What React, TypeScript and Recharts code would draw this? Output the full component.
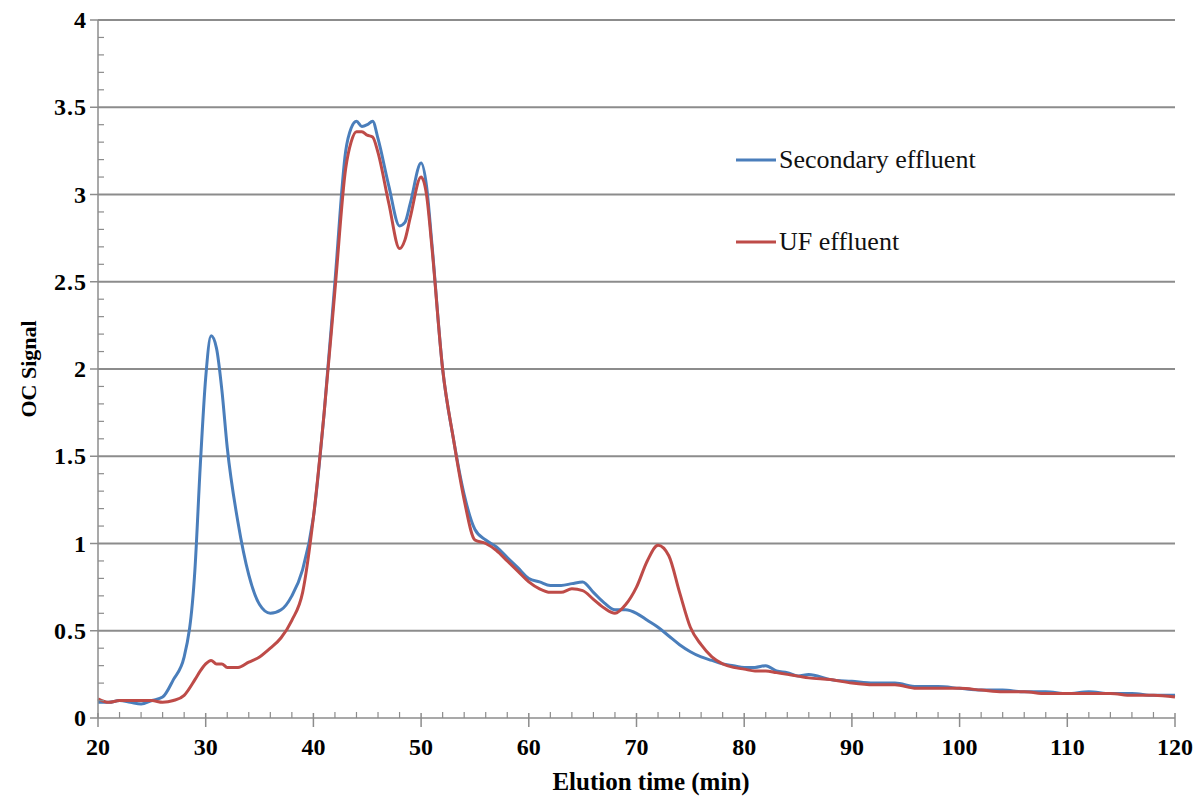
import { LineChart, Line, XAxis, YAxis, ReferenceLine } from "recharts";

// Elution time (min)
const timeMin = [
  20, 21, 22, 23, 24, 25, 26, 27, 28, 29, 29.5, 30, 30.5, 31, 31.5, 32, 33, 34, 35, 36, 37, 38, 39, 40, 41, 42,
  43, 43.5, 44, 44.5, 45, 45.5, 46, 47, 48, 48.5, 49, 50, 50.5, 51, 52, 53, 54, 55, 56, 57, 58, 59, 60, 61, 62,
  63, 64, 65, 66, 67, 68, 69, 70, 71, 72, 73, 74, 75, 76, 77, 78, 79, 80, 81, 82, 83, 84, 85, 86, 88, 90, 92,
  94, 96, 98, 100, 102, 104, 106, 108, 110, 112, 114, 116, 118, 120,
];

const secondaryEffluent = [
  0.09, 0.09, 0.1, 0.09, 0.08, 0.1, 0.12, 0.22, 0.35, 0.85, 1.45, 1.95, 2.19, 2.12, 1.88, 1.55, 1.12, 0.82, 0.65,
  0.6, 0.62, 0.7, 0.85, 1.15, 1.75, 2.5, 3.25, 3.38, 3.42, 3.39, 3.4, 3.42, 3.32, 3.05, 2.82, 2.84, 2.95, 3.18,
  3.05, 2.72, 2.0, 1.6, 1.28, 1.08, 1.02, 0.98, 0.92, 0.86, 0.8, 0.78, 0.76, 0.76, 0.77, 0.78, 0.72, 0.66, 0.62,
  0.62, 0.6, 0.56, 0.52, 0.47, 0.42, 0.38, 0.35, 0.33, 0.31, 0.3, 0.29, 0.29, 0.3, 0.27, 0.26, 0.24, 0.25, 0.22,
  0.21, 0.2, 0.2, 0.18, 0.18, 0.17, 0.16, 0.16, 0.15, 0.15, 0.14, 0.15, 0.14, 0.14, 0.13, 0.13,
];

const ufEffluent = [
  0.11, 0.09, 0.1, 0.1, 0.1, 0.1, 0.09, 0.1, 0.13, 0.22, 0.27, 0.31, 0.33, 0.31, 0.31, 0.29, 0.29, 0.32, 0.35,
  0.4, 0.46, 0.56, 0.72, 1.15, 1.75, 2.45, 3.15, 3.3, 3.36, 3.36, 3.34, 3.33, 3.24, 2.95, 2.69, 2.74, 2.87, 3.1,
  3.0, 2.7, 2.0, 1.6, 1.25, 1.02, 1.0, 0.96, 0.9, 0.84, 0.78, 0.74, 0.72, 0.72, 0.74, 0.73, 0.68, 0.63, 0.6,
  0.65, 0.75, 0.9, 0.99, 0.93, 0.72, 0.52, 0.42, 0.35, 0.31, 0.29, 0.28, 0.27, 0.27, 0.26, 0.25, 0.24, 0.23, 0.22,
  0.2, 0.19, 0.19, 0.17, 0.17, 0.17, 0.16, 0.15, 0.15, 0.14, 0.14, 0.14, 0.14, 0.13, 0.13, 0.12,
];

const xTicks = [20, 22, 24, 26, 28, 30, 32, 34, 36, 38, 40, 42, 44, 46, 48, 50, 52, 54, 56, 58, 60, 62, 64, 66, 68, 70, 72, 74, 76, 78, 80, 82, 84, 86, 88, 90, 92, 94, 96, 98, 100, 102, 104, 106, 108, 110, 112, 114, 116, 118, 120];
const yMajor = [0.5, 1, 1.5, 2, 2.5, 3, 3.5, 4];
const yTicks = Array.from({ length: 41 }, (_, i) => i / 10);

const BLUE = "#4a7ebb";
const RED = "#be4b48";
const AXIS = "#8c8c8c";
const FONT = "Liberation Serif, Times New Roman, serif";

const data = timeMin.map((t, i) => ({
  t,
  secondary: secondaryEffluent[i],
  uf: ufEffluent[i],
}));

function XTick({ x, y, payload }: any) {
  const major = payload.value % 10 === 0;
  return (
    <g>
      {major ? (
        <line x1={x} x2={x} y1={y - 5} y2={y + 9} stroke={AXIS} strokeWidth={1.5} />
      ) : (
        <line x1={x} x2={x} y1={y - 6} y2={y} stroke={AXIS} strokeWidth={1.2} />
      )}
      {major && (
        <text x={x} y={y + 37} textAnchor="middle" fontFamily={FONT} fontWeight="bold" fontSize={24} fill="#000">
          {payload.value}
        </text>
      )}
    </g>
  );
}

function YTick({ x, y, payload }: any) {
  const major = Math.round(payload.value * 10) % 5 === 0;
  return (
    <g>
      {major ? (
        <line x1={x - 8} x2={x} y1={y} y2={y} stroke={AXIS} strokeWidth={1.5} />
      ) : (
        <line x1={x} x2={x + 6} y1={y} y2={y} stroke={AXIS} strokeWidth={1.2} />
      )}
      {major && (
        <text
          x={x - 11}
          y={y + 8}
          textAnchor="end"
          fontFamily={FONT}
          fontWeight="bold"
          fontSize={24}
          letterSpacing={1}
          fill="#000"
        >
          {payload.value}
        </text>
      )}
    </g>
  );
}

// legend and x title drawn as an svg overlay so they take no room from the plot
function Overlay() {
  const items = [
    { label: "Secondary effluent", color: BLUE, y: 160 },
    { label: "UF effluent", color: RED, y: 242 },
  ];
  return (
    <svg width={1204} height={804} style={{ position: "absolute", left: 0, top: 0, pointerEvents: "none" }}>
      {items.map((it) => (
        <g key={it.label}>
          <line x1={736} x2={776} y1={it.y} y2={it.y} stroke={it.color} strokeWidth={3} />
          <text x={779} y={it.y + 8} fontFamily={FONT} fontSize={26} fill="#111">
            {it.label}
          </text>
        </g>
      ))}
      <text x={651} y={790} textAnchor="middle" fontFamily={FONT} fontWeight="bold" fontSize={25} fill="#000">
        Elution time (min)
      </text>
    </svg>
  );
}

export default function App() {
  return (
    <div style={{ margin: -8, width: 1204, height: 804, background: "#fff", position: "relative" }}>
      <LineChart width={1204} height={804} data={data} margin={{ top: 20, right: 29, bottom: 26, left: 38 }}>
        <XAxis
          dataKey="t"
          type="number"
          domain={[20, 120]}
          ticks={xTicks}
          interval={0}
          tickSize={0}
          tickMargin={0}
          tickLine={false}
          tick={<XTick />}
          axisLine={{ stroke: AXIS, strokeWidth: 1.5 }}
          height={60}
        />
        <YAxis
          type="number"
          domain={[0, 4]}
          ticks={yTicks}
          interval={0}
          tickSize={0}
          tickMargin={0}
          tickLine={false}
          tick={<YTick />}
          axisLine={{ stroke: AXIS, strokeWidth: 1.5 }}
          width={60}
          label={{
            value: "OC Signal",
            angle: -90,
            position: "insideLeft",
            offset: -10,
            style: { fontFamily: FONT, fontWeight: "bold", fontSize: 22, fill: "#000", textAnchor: "middle" },
          }}
        />
        {yMajor.map((v) => (
          <ReferenceLine key={v} y={v} stroke={AXIS} strokeWidth={2} />
        ))}
        <Line
          type="monotone"
          dataKey="secondary"
          name="Secondary effluent"
          stroke={BLUE}
          strokeWidth={3}
          dot={false}
          isAnimationActive={false}
        />
        <Line
          type="monotone"
          dataKey="uf"
          name="UF effluent"
          stroke={RED}
          strokeWidth={3}
          dot={false}
          isAnimationActive={false}
        />
      </LineChart>
      <Overlay />
    </div>
  );
}
